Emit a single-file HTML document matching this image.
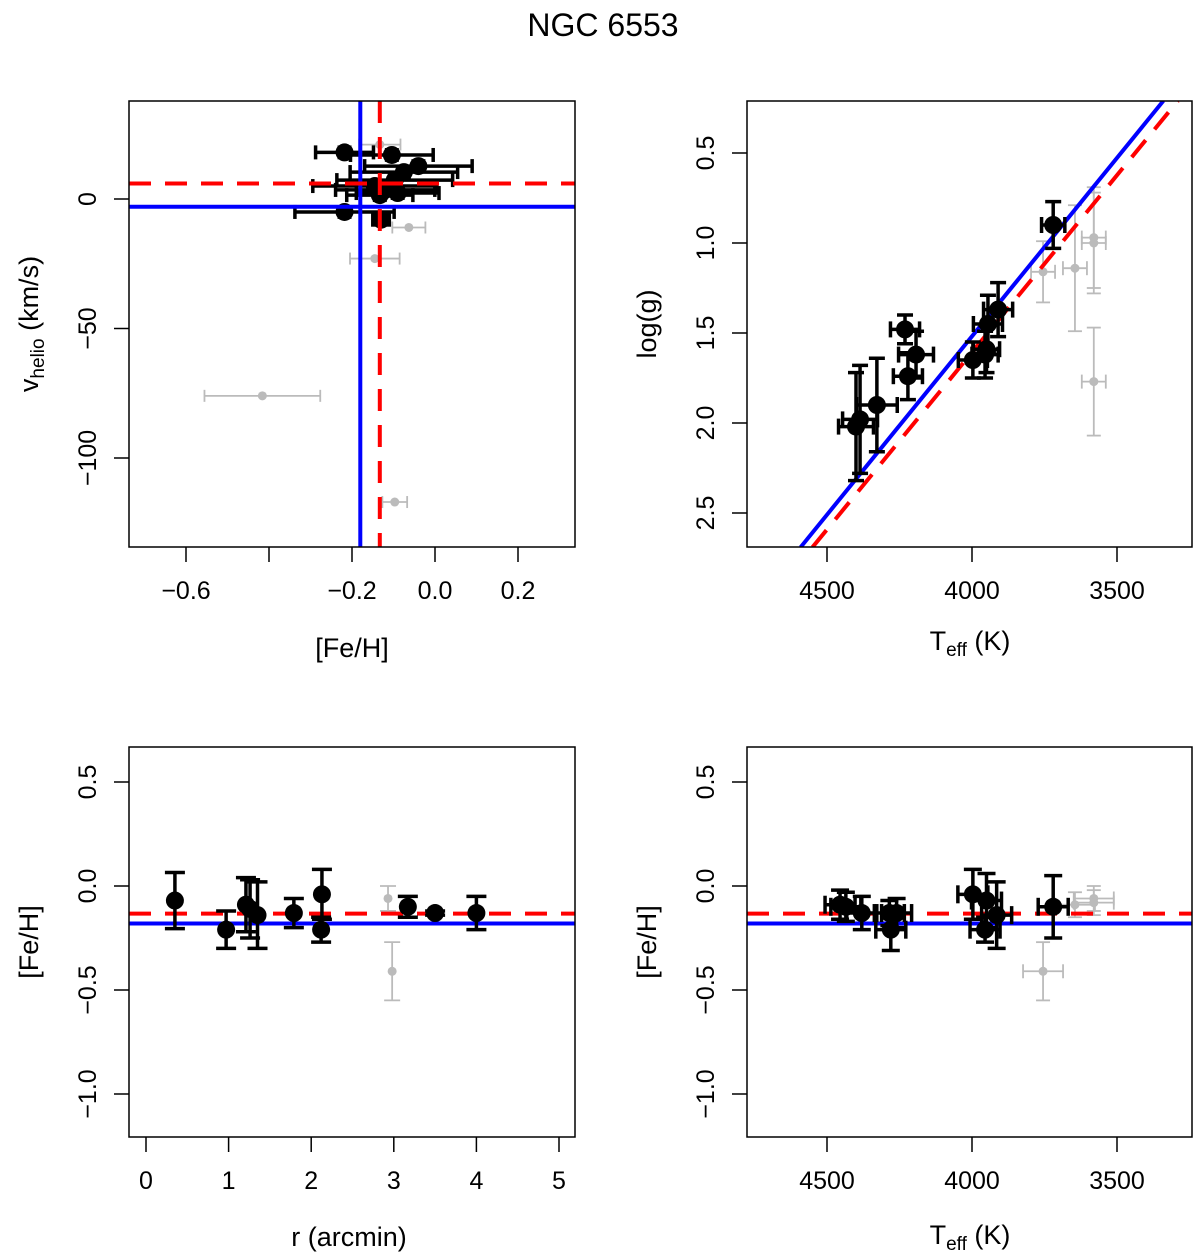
<!DOCTYPE html>
<html><head><meta charset="utf-8"><style>
body{margin:0;background:#fff}
svg{display:block;font-family:"Liberation Sans",Arial,sans-serif}
</style></head><body>
<svg id="fig" width="1200" height="1257" viewBox="0 0 1200 1257">
<text x="603" y="36" font-size="32" text-anchor="middle">NGC 6553</text>
</svg>
<script>
// Panel A: vhelio vs [Fe/H]
const aFe=[-0.218,-0.104,-0.04,-0.075,-0.097,-0.145,-0.12,-0.09,-0.133,-0.218,-0.13];
const aV=[18,17,12.7,10.4,7.3,5,3.5,2.3,1.5,-5,-8];
const aFeErr=[0.07,0.1,0.13,0.13,0.14,0.15,0.12,0.1,0.08,0.12,0.02];
const aVErr=[2,2,2,2,2,2,2,2,2,2,2];
const aGFe=[-0.416,-0.063,-0.145,-0.097,-0.133];
const aGV=[-76,-11,-23,-117,21];
const aGFeErr=[0.14,0.04,0.06,0.03,0.05];
// Panel B: logg vs Teff
const bT=[3720,3910,3945,3950,3955,3997,4193,4231,4221,4328,4386,4400];
const bG=[0.9,1.37,1.45,1.59,1.62,1.65,1.62,1.48,1.74,1.9,1.98,2.02];
const bTErr=[40,50,50,45,45,50,60,50,50,70,60,60];
const bGErr=[0.13,0.15,0.16,0.13,0.13,0.1,0.13,0.08,0.13,0.26,0.3,0.3];
const bGT=[3755,3645,3580,3580,3580];
const bGG=[1.16,1.14,0.97,1.0,1.77];
const bGGErr=[0.17,0.35,0.28,0.28,0.3];
const fitBlueT=[4591,3340], fitBlueG=[2.69,0.21];
const fitRedT=[4550,3290], fitRedG=[2.69,0.21];
// Panel C: [Fe/H] vs r
const cR=[0.35,0.97,1.21,1.26,1.35,1.79,2.12,2.13,3.17,3.5,4.0];
const cFe=[-0.07,-0.21,-0.09,-0.11,-0.14,-0.13,-0.21,-0.04,-0.10,-0.13,-0.13];
const cErr=[0.135,0.09,0.13,0.14,0.16,0.07,0.06,0.12,0.05,0.01,0.08];
const cGR=[2.93,2.98];
const cGFe=[-0.06,-0.41];
const cGErr=[0.06,0.14];
// Panel D: [Fe/H] vs Teff
const dT=[4455,4435,4380,4285,4280,4260,3997,3955,3950,3915,3720];
const dFe=[-0.09,-0.1,-0.13,-0.13,-0.21,-0.13,-0.04,-0.21,-0.07,-0.14,-0.10];
const dErr=[0.07,0.07,0.08,0.06,0.1,0.07,0.12,0.06,0.13,0.16,0.15];
const dGT=[3755,3645,3580,3580];
const dGFe=[-0.41,-0.09,-0.06,-0.08];
const meanBlue=-0.18, meanRed=-0.133, vBlue=-3, vRed=6;

const svg=document.getElementById('fig');
const NS='http://www.w3.org/2000/svg';
function mk(tag,attrs,parent){const e=document.createElementNS(NS,tag);for(const k in attrs)e.setAttribute(k,attrs[k]);(parent||svg).appendChild(e);return e;}
function lin(d0,d1,p0,p1){return v=>p0+(v-d0)*(p1-p0)/(d1-d0);}

function frame(x0,y0,x1,y1,name){
  const r=mk('rect',{x:x0,y:y0,width:x1-x0,height:y1-y0,fill:'none',stroke:'#000','stroke-width':1.5});
  
  
}
function xTicks(sx,vals,labels,y1,name){
  const g=mk('g',{});
  
  
  vals.forEach((v,i)=>{const x=sx(v);
    mk('line',{x1:x,x2:x,y1:y1,y2:y1+15,stroke:'#000','stroke-width':1.5},g);
    if(labels[i]!==''){const t=mk('text',{x:x,y:y1+52,'font-size':25,'text-anchor':'middle'},g);t.textContent=labels[i];}
  });
}
function yTicks(sy,vals,labels,x0,name){
  const g=mk('g',{});
  
  
  vals.forEach((v,i)=>{const y=sy(v);
    mk('line',{x1:x0-15,x2:x0,y1:y,y2:y,stroke:'#000','stroke-width':1.5},g);
    const xx=x0-41;
    const t=mk('text',{x:xx,y:y,'font-size':25,'text-anchor':'middle','dominant-baseline':'central',transform:`rotate(-90 ${xx} ${y})`},g);t.textContent=labels[i];
  });
}
function errbar(g,x,y,xe,ye,col,w,cap){
  if(xe){mk('line',{x1:x-xe,x2:x+xe,y1:y,y2:y,stroke:col,'stroke-width':w},g);
    mk('line',{x1:x-xe,x2:x-xe,y1:y-cap,y2:y+cap,stroke:col,'stroke-width':w},g);
    mk('line',{x1:x+xe,x2:x+xe,y1:y-cap,y2:y+cap,stroke:col,'stroke-width':w},g);}
  if(ye){mk('line',{x1:x,x2:x,y1:y-ye,y2:y+ye,stroke:col,'stroke-width':w},g);
    mk('line',{x1:x-cap,x2:x+cap,y1:y-ye,y2:y-ye,stroke:col,'stroke-width':w},g);
    mk('line',{x1:x-cap,x2:x+cap,y1:y+ye,y2:y+ye,stroke:col,'stroke-width':w},g);}
}
function clip(id,x0,y0,x1,y1){const c=mk('clipPath',{id:id});mk('rect',{x:x0,y:y0,width:x1-x0,height:y1-y0},c);}
function hline(g,y,x0,x1,col,dash){const l=mk('line',{x1:x0,x2:x1,y1:y,y2:y,stroke:col,'stroke-width':4,'stroke-dasharray':dash?'22 14':'none'},g);return l;}

// ===== Panel A =====
(function(){
  const x0=129,x1=575,y0=101,y1=547;
  const sx=lin(0,0.2,435,518), sy=lin(0,-50,199,328.5);
  clip('cA',x0,y0,x1,y1);
  const g=mk('g',{'clip-path':'url(#cA)'});
  
  
  aGFe.forEach((f,i)=>{const gp=mk('g',{},g);
    
    
    errbar(gp,sx(f),sy(aGV[i]),aGFeErr[i]*413.5,0,'#bbb',1.8,6);
    mk('circle',{cx:sx(f),cy:sy(aGV[i]),r:4.5,fill:'#bbb'},gp);});
  aFe.forEach((f,i)=>{const gp=mk('g',{},g);
    
    
    errbar(gp,sx(f),sy(aV[i]),aFeErr[i]*413.5,aVErr[i]*2.59,'#000',3.5,7);
    mk('circle',{cx:sx(f),cy:sy(aV[i]),r:9,fill:'#000'},gp);});
  let l=mk('line',{x1:sx(meanBlue),x2:sx(meanBlue),y1:y0,y2:y1,stroke:'#0000ff','stroke-width':4},g);
  
  l=mk('line',{x1:sx(meanRed),x2:sx(meanRed),y1:y0,y2:y1,stroke:'#ff0000','stroke-width':4,'stroke-dasharray':'22 14'},g);
  
  l=hline(g,sy(vBlue),x0,x1,'#0000ff',false);
  
  l=hline(g,sy(vRed),x0,x1,'#ff0000',true);
  
  frame(x0,y0,x1,y1,'panel-a-frame');
  xTicks(sx,[-0.6,-0.4,-0.2,0,0.2],['\u22120.6','','\u22120.2','0.0','0.2'],y1,'panel-a-x-ticks');
  yTicks(sy,[0,-50,-100],['0','\u221250','\u2212100'],x0,'panel-a-y-ticks');
  let t=mk('text',{x:352,y:657,'font-size':27,'text-anchor':'middle'});t.textContent='[Fe/H]';
  
  t=mk('text',{x:38,y:324,'font-size':27,'text-anchor':'middle',transform:'rotate(-90 38 324)'});
  t.innerHTML='v<tspan font-size="19" dy="6">helio</tspan><tspan dy="-6"> (km/s)</tspan>';
  
})();

// ===== Panel B =====
(function(){
  const x0=747,x1=1192,y0=101,y1=547;
  const sx=lin(4000,3500,972,1117), sy=lin(0.5,1.0,153,243);
  clip('cB',x0,y0,x1,y1);
  const g=mk('g',{'clip-path':'url(#cB)'});
  
  
  bGT.forEach((t,i)=>{const gp=mk('g',{},g);
    
    
    errbar(gp,sx(t),sy(bGG[i]),12,bGGErr[i]*180,'#bbb',1.8,7);
    mk('circle',{cx:sx(t),cy:sy(bGG[i]),r:4.5,fill:'#bbb'},gp);});
  let l=mk('line',{x1:sx(fitBlueT[0]),y1:sy(fitBlueG[0]),x2:sx(fitBlueT[1]),y2:sy(fitBlueG[1]),stroke:'#0000ff','stroke-width':4},g);
  
  l=mk('line',{x1:sx(fitRedT[0]),y1:sy(fitRedG[0]),x2:sx(fitRedT[1]),y2:sy(fitRedG[1]),stroke:'#ff0000','stroke-width':4,'stroke-dasharray':'22 14'},g);
  
  bT.forEach((t,i)=>{const gp=mk('g',{},g);
    
    
    errbar(gp,sx(t),sy(bG[i]),bTErr[i]*0.291,bGErr[i]*180,'#000',3.5,8);
    mk('circle',{cx:sx(t),cy:sy(bG[i]),r:9,fill:'#000'},gp);});
  frame(x0,y0,x1,y1,'panel-b-frame');
  xTicks(sx,[4500,4000,3500],['4500','4000','3500'],y1,'panel-b-x-ticks');
  yTicks(sy,[0.5,1.0,1.5,2.0,2.5],['0.5','1.0','1.5','2.0','2.5'],x0,'panel-b-y-ticks');
  let t=mk('text',{x:970,y:650,'font-size':27,'text-anchor':'middle'});
  t.innerHTML='T<tspan font-size="19" dy="6">eff</tspan><tspan dy="-6"> (K)</tspan>';
  
  t=mk('text',{x:656,y:324,'font-size':27,'text-anchor':'middle',transform:'rotate(-90 656 324)'});t.textContent='log(g)';
  
})();

// ===== Panel C =====
(function(){
  const x0=129,x1=575,y0=747,y1=1137;
  const sx=lin(0,5,146,559), sy=lin(0,0.5,886,782);
  clip('cC',x0,y0,x1,y1);
  const g=mk('g',{'clip-path':'url(#cC)'});
  
  
  cGR.forEach((r,i)=>{const gp=mk('g',{},g);
    
    
    errbar(gp,sx(r),sy(cGFe[i]),0,cGErr[i]*208,'#bbb',1.8,8);
    mk('circle',{cx:sx(r),cy:sy(cGFe[i]),r:4.5,fill:'#bbb'},gp);});
  let l=hline(g,sy(meanBlue),x0,x1,'#0000ff',false);
  
  l=hline(g,sy(meanRed),x0,x1,'#ff0000',true);
  
  cR.forEach((r,i)=>{const gp=mk('g',{},g);
    
    
    errbar(gp,sx(r),sy(cFe[i]),0,cErr[i]*208,'#000',3.5,10);
    mk('circle',{cx:sx(r),cy:sy(cFe[i]),r:9,fill:'#000'},gp);});
  frame(x0,y0,x1,y1,'panel-c-frame');
  xTicks(sx,[0,1,2,3,4,5],['0','1','2','3','4','5'],y1,'panel-c-x-ticks');
  yTicks(sy,[0.5,0,-0.5,-1.0],['0.5','0.0','\u22120.5','\u22121.0'],x0,'panel-c-y-ticks');
  let t=mk('text',{x:349,y:1246,'font-size':27,'text-anchor':'middle'});t.textContent='r (arcmin)';
  
  t=mk('text',{x:38,y:942,'font-size':27,'text-anchor':'middle',transform:'rotate(-90 38 942)'});t.textContent='[Fe/H]';
  
})();

// ===== Panel D =====
(function(){
  const x0=747,x1=1192,y0=747,y1=1137;
  const sx=lin(4000,3500,972,1117), sy=lin(0,0.5,886,782);
  clip('cD',x0,y0,x1,y1);
  const g=mk('g',{'clip-path':'url(#cD)'});
  
  
  dGT.forEach((tv,i)=>{const gp=mk('g',{},g);
    
    
    errbar(gp,sx(tv),sy(dGFe[i]),20,(i==0?0.14:0.06)*208,'#bbb',1.8,7);
    mk('circle',{cx:sx(tv),cy:sy(dGFe[i]),r:4.5,fill:'#bbb'},gp);});
  let l=hline(g,sy(meanBlue),x0,x1,'#0000ff',false);
  
  l=hline(g,sy(meanRed),x0,x1,'#ff0000',true);
  
  dT.forEach((tv,i)=>{const gp=mk('g',{},g);
    
    
    errbar(gp,sx(tv),sy(dFe[i]),15,dErr[i]*208,'#000',3.5,9);
    mk('circle',{cx:sx(tv),cy:sy(dFe[i]),r:9,fill:'#000'},gp);});
  frame(x0,y0,x1,y1,'panel-d-frame');
  xTicks(sx,[4500,4000,3500],['4500','4000','3500'],y1,'panel-d-x-ticks');
  yTicks(sy,[0.5,0,-0.5,-1.0],['0.5','0.0','\u22120.5','\u22121.0'],x0,'panel-d-y-ticks');
  let t=mk('text',{x:970,y:1244,'font-size':27,'text-anchor':'middle'});
  t.innerHTML='T<tspan font-size="19" dy="6">eff</tspan><tspan dy="-6"> (K)</tspan>';
  
  t=mk('text',{x:656,y:942,'font-size':27,'text-anchor':'middle',transform:'rotate(-90 656 942)'});t.textContent='[Fe/H]';
  
})();
</script>
</body></html>
